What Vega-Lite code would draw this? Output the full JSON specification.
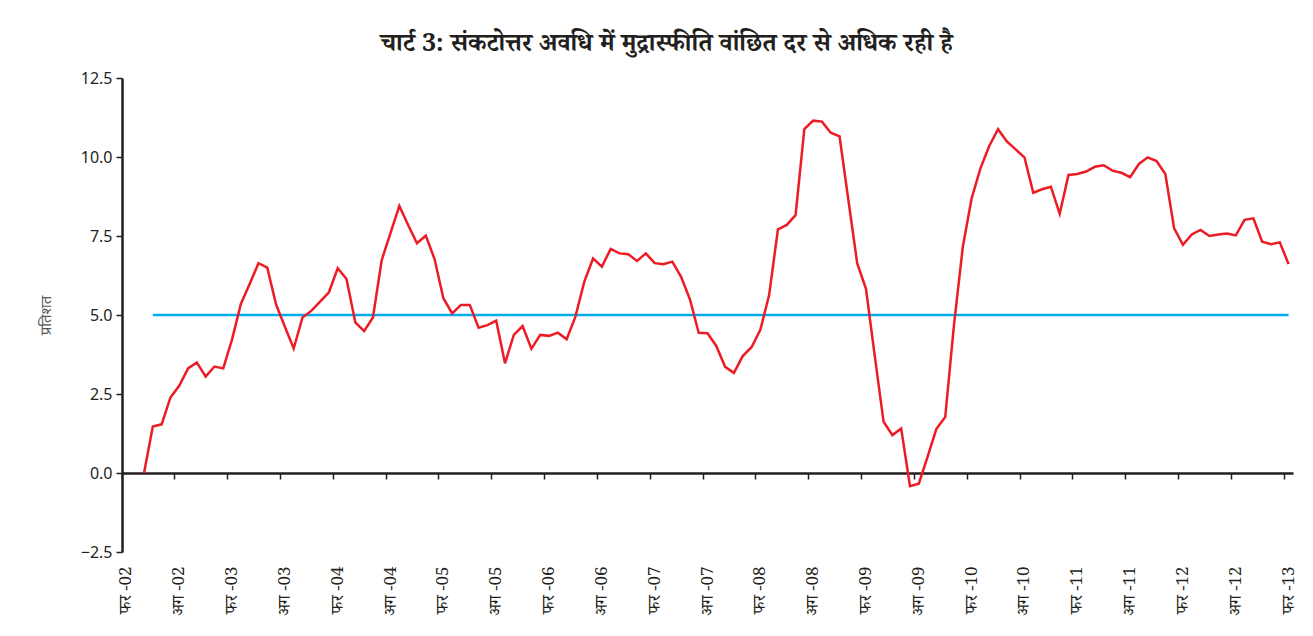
{
  "$schema": "https://vega.github.io/schema/vega-lite/v6.json",
  "autosize": {"type": "none"},
  "width": 1171,
  "height": 474,
  "padding": {"left": 122, "top": 78, "right": 20, "bottom": 84},
  "background": "white",
  "config": {"view": {"stroke": null}, "font": "Noto Sans"},
  "title": {
    "text": "चार्ट 3: संकटोत्तर अवधि में मुद्रास्फीति वांछित दर से अधिक रही है",
    "fontSize": 25,
    "fontWeight": "bold",
    "font": "Noto Serif Devanagari, Noto Sans Devanagari, Lohit Devanagari, FreeSerif, serif",
    "color": "#231f20",
    "anchor": "middle",
    "frame": "group",
    "dx": -41,
    "offset": 14
  },
  "data": {"values": [
    {"m": "2002-02"}, {"m": "2002-03"},
    {"m": "2002-04", "cpi": 0},
    {"m": "2002-05", "cpi": 1.47, "target": 5},
    {"m": "2002-06", "cpi": 1.54, "target": 5},
    {"m": "2002-07", "cpi": 2.39, "target": 5},
    {"m": "2002-08", "cpi": 2.76, "target": 5},
    {"m": "2002-09", "cpi": 3.31, "target": 5},
    {"m": "2002-10", "cpi": 3.50, "target": 5},
    {"m": "2002-11", "cpi": 3.05, "target": 5},
    {"m": "2002-12", "cpi": 3.37, "target": 5},
    {"m": "2003-01", "cpi": 3.31, "target": 5},
    {"m": "2003-02", "cpi": 4.23, "target": 5},
    {"m": "2003-03", "cpi": 5.35, "target": 5},
    {"m": "2003-04", "cpi": 5.98, "target": 5},
    {"m": "2003-05", "cpi": 6.64, "target": 5},
    {"m": "2003-06", "cpi": 6.50, "target": 5},
    {"m": "2003-07", "cpi": 5.33, "target": 5},
    {"m": "2003-08", "cpi": 4.63, "target": 5},
    {"m": "2003-09", "cpi": 3.94, "target": 5},
    {"m": "2003-10", "cpi": 4.92, "target": 5},
    {"m": "2003-11", "cpi": 5.13, "target": 5},
    {"m": "2003-12", "cpi": 5.42, "target": 5},
    {"m": "2004-01", "cpi": 5.72, "target": 5},
    {"m": "2004-02", "cpi": 6.48, "target": 5},
    {"m": "2004-03", "cpi": 6.14, "target": 5},
    {"m": "2004-04", "cpi": 4.77, "target": 5},
    {"m": "2004-05", "cpi": 4.49, "target": 5},
    {"m": "2004-06", "cpi": 4.92, "target": 5},
    {"m": "2004-07", "cpi": 6.74, "target": 5},
    {"m": "2004-08", "cpi": 7.60, "target": 5},
    {"m": "2004-09", "cpi": 8.45, "target": 5},
    {"m": "2004-10", "cpi": 7.85, "target": 5},
    {"m": "2004-11", "cpi": 7.27, "target": 5},
    {"m": "2004-12", "cpi": 7.51, "target": 5},
    {"m": "2005-01", "cpi": 6.77, "target": 5},
    {"m": "2005-02", "cpi": 5.53, "target": 5},
    {"m": "2005-03", "cpi": 5.05, "target": 5},
    {"m": "2005-04", "cpi": 5.32, "target": 5},
    {"m": "2005-05", "cpi": 5.32, "target": 5},
    {"m": "2005-06", "cpi": 4.60, "target": 5},
    {"m": "2005-07", "cpi": 4.68, "target": 5},
    {"m": "2005-08", "cpi": 4.82, "target": 5},
    {"m": "2005-09", "cpi": 3.47, "target": 5},
    {"m": "2005-10", "cpi": 4.37, "target": 5},
    {"m": "2005-11", "cpi": 4.65, "target": 5},
    {"m": "2005-12", "cpi": 3.93, "target": 5},
    {"m": "2006-01", "cpi": 4.37, "target": 5},
    {"m": "2006-02", "cpi": 4.34, "target": 5},
    {"m": "2006-03", "cpi": 4.44, "target": 5},
    {"m": "2006-04", "cpi": 4.23, "target": 5},
    {"m": "2006-05", "cpi": 4.95, "target": 5},
    {"m": "2006-06", "cpi": 6.05, "target": 5},
    {"m": "2006-07", "cpi": 6.79, "target": 5},
    {"m": "2006-08", "cpi": 6.53, "target": 5},
    {"m": "2006-09", "cpi": 7.09, "target": 5},
    {"m": "2006-10", "cpi": 6.95, "target": 5},
    {"m": "2006-11", "cpi": 6.92, "target": 5},
    {"m": "2006-12", "cpi": 6.71, "target": 5},
    {"m": "2007-01", "cpi": 6.95, "target": 5},
    {"m": "2007-02", "cpi": 6.64, "target": 5},
    {"m": "2007-03", "cpi": 6.61, "target": 5},
    {"m": "2007-04", "cpi": 6.69, "target": 5},
    {"m": "2007-05", "cpi": 6.21, "target": 5},
    {"m": "2007-06", "cpi": 5.50, "target": 5},
    {"m": "2007-07", "cpi": 4.44, "target": 5},
    {"m": "2007-08", "cpi": 4.42, "target": 5},
    {"m": "2007-09", "cpi": 4.02, "target": 5},
    {"m": "2007-10", "cpi": 3.36, "target": 5},
    {"m": "2007-11", "cpi": 3.17, "target": 5},
    {"m": "2007-12", "cpi": 3.70, "target": 5},
    {"m": "2008-01", "cpi": 3.98, "target": 5},
    {"m": "2008-02", "cpi": 4.53, "target": 5},
    {"m": "2008-03", "cpi": 5.63, "target": 5},
    {"m": "2008-04", "cpi": 7.71, "target": 5},
    {"m": "2008-05", "cpi": 7.85, "target": 5},
    {"m": "2008-06", "cpi": 8.16, "target": 5},
    {"m": "2008-07", "cpi": 10.88, "target": 5},
    {"m": "2008-08", "cpi": 11.15, "target": 5},
    {"m": "2008-09", "cpi": 11.12, "target": 5},
    {"m": "2008-10", "cpi": 10.77, "target": 5},
    {"m": "2008-11", "cpi": 10.65, "target": 5},
    {"m": "2008-12", "cpi": 8.64, "target": 5},
    {"m": "2009-01", "cpi": 6.64, "target": 5},
    {"m": "2009-02", "cpi": 5.83, "target": 5},
    {"m": "2009-03", "cpi": 3.70, "target": 5},
    {"m": "2009-04", "cpi": 1.62, "target": 5},
    {"m": "2009-05", "cpi": 1.20, "target": 5},
    {"m": "2009-06", "cpi": 1.41, "target": 5},
    {"m": "2009-07", "cpi": -0.42, "target": 5},
    {"m": "2009-08", "cpi": -0.34, "target": 5},
    {"m": "2009-09", "cpi": 0.52, "target": 5},
    {"m": "2009-10", "cpi": 1.40, "target": 5},
    {"m": "2009-11", "cpi": 1.77, "target": 5},
    {"m": "2009-12", "cpi": 4.70, "target": 5},
    {"m": "2010-01", "cpi": 7.16, "target": 5},
    {"m": "2010-02", "cpi": 8.69, "target": 5},
    {"m": "2010-03", "cpi": 9.64, "target": 5},
    {"m": "2010-04", "cpi": 10.35, "target": 5},
    {"m": "2010-05", "cpi": 10.88, "target": 5},
    {"m": "2010-06", "cpi": 10.49, "target": 5},
    {"m": "2010-07", "cpi": 10.24, "target": 5},
    {"m": "2010-08", "cpi": 9.99, "target": 5},
    {"m": "2010-09", "cpi": 8.87, "target": 5},
    {"m": "2010-10", "cpi": 8.98, "target": 5},
    {"m": "2010-11", "cpi": 9.06, "target": 5},
    {"m": "2010-12", "cpi": 8.20, "target": 5},
    {"m": "2011-01", "cpi": 9.43, "target": 5},
    {"m": "2011-02", "cpi": 9.46, "target": 5},
    {"m": "2011-03", "cpi": 9.54, "target": 5},
    {"m": "2011-04", "cpi": 9.69, "target": 5},
    {"m": "2011-05", "cpi": 9.74, "target": 5},
    {"m": "2011-06", "cpi": 9.57, "target": 5},
    {"m": "2011-07", "cpi": 9.50, "target": 5},
    {"m": "2011-08", "cpi": 9.36, "target": 5},
    {"m": "2011-09", "cpi": 9.78, "target": 5},
    {"m": "2011-10", "cpi": 9.99, "target": 5},
    {"m": "2011-11", "cpi": 9.87, "target": 5},
    {"m": "2011-12", "cpi": 9.46, "target": 5},
    {"m": "2012-01", "cpi": 7.74, "target": 5},
    {"m": "2012-02", "cpi": 7.22, "target": 5},
    {"m": "2012-03", "cpi": 7.55, "target": 5},
    {"m": "2012-04", "cpi": 7.69, "target": 5},
    {"m": "2012-05", "cpi": 7.50, "target": 5},
    {"m": "2012-06", "cpi": 7.55, "target": 5},
    {"m": "2012-07", "cpi": 7.58, "target": 5},
    {"m": "2012-08", "cpi": 7.52, "target": 5},
    {"m": "2012-09", "cpi": 8.01, "target": 5},
    {"m": "2012-10", "cpi": 8.06, "target": 5},
    {"m": "2012-11", "cpi": 7.32, "target": 5},
    {"m": "2012-12", "cpi": 7.24, "target": 5},
    {"m": "2013-01", "cpi": 7.30, "target": 5},
    {"m": "2013-02", "cpi": 6.61, "target": 5}
  ]},
  "resolve": {"axis": {"x": "independent"}},
  "layer": [
    {
      "mark": {"type": "point", "opacity": 0},
      "encoding": {
        "x": {
          "field": "m",
          "type": "ordinal",
          "sort": "ascending",
          "scale": {"type": "band", "paddingInner": 0, "paddingOuter": 0},
          "axis": {
            "orient": "bottom",
            "title": null,
            "values": ["2002-02","2002-08","2003-02","2003-08","2004-02","2004-08","2005-02","2005-08","2006-02","2006-08","2007-02","2007-08","2008-02","2008-08","2009-02","2009-08","2010-02","2010-08","2011-02","2011-08","2012-02","2012-08","2013-02"],
            "labelExpr": "(substring(datum.value,5,7)=='02' ? 'फर -' : 'अग -') + substring(datum.value,2,4)",
            "labelAngle": 270,
            "labelFont": "Noto Serif Devanagari, Noto Sans Devanagari, Lohit Devanagari, FreeSerif, serif",
            "labelFontSize": 17,
            "labelColor": "#231f20",
            "labelPadding": 14,
            "ticks": false,
            "domain": false,
            "grid": false
          }
        }
      }
    },
    {
      "mark": {"type": "line", "color": "#00AEEF", "strokeWidth": 2.5},
      "encoding": {
        "x": {
          "field": "m",
          "type": "ordinal",
          "sort": "ascending",
          "axis": {
            "orient": "bottom",
            "title": null,
            "values": ["2002-02","2002-08","2003-02","2003-08","2004-02","2004-08","2005-02","2005-08","2006-02","2006-08","2007-02","2007-08","2008-02","2008-08","2009-02","2009-08","2010-02","2010-08","2011-02","2011-08","2012-02","2012-08","2013-02"],
            "bandPosition": 0,
            "labels": false,
            "tickSize": 6,
            "tickColor": "#231f20",
            "tickWidth": 1.5,
            "domainColor": "#231f20",
            "domainWidth": 2.5,
            "offset": -79,
            "grid": false
          }
        },
        "y": {
          "field": "target",
          "type": "quantitative",
          "scale": {"domain": [-2.5, 12.5], "nice": false, "zero": false},
          "axis": {
            "title": "प्रतिशत",
            "titleFont": "Noto Sans Devanagari, Lohit Devanagari, FreeSans, sans-serif",
            "titleFontSize": 15,
            "titleFontWeight": "normal",
            "titleColor": "#555555",
            "titleX": -77,
            "titleY": 237,
            "titleAngle": 270,
            "titleAlign": "center",
            "titleBaseline": "middle",
            "values": [-2.5, 0, 2.5, 5, 7.5, 10, 12.5],
            "format": ".1f",
            "labelFontSize": 16,
            "labelColor": "#231f20",
            "labelPadding": 4,
            "tickSize": 6,
            "tickColor": "#231f20",
            "tickWidth": 1.5,
            "domainColor": "#231f20",
            "domainWidth": 2.5,
            "grid": false
          }
        }
      }
    },
    {
      "mark": {"type": "line", "color": "#ED1C24", "strokeWidth": 2.5},
      "encoding": {
        "x": {"field": "m", "type": "ordinal", "sort": "ascending", "axis": null},
        "y": {"field": "cpi", "type": "quantitative"}
      }
    }
  ]
}
